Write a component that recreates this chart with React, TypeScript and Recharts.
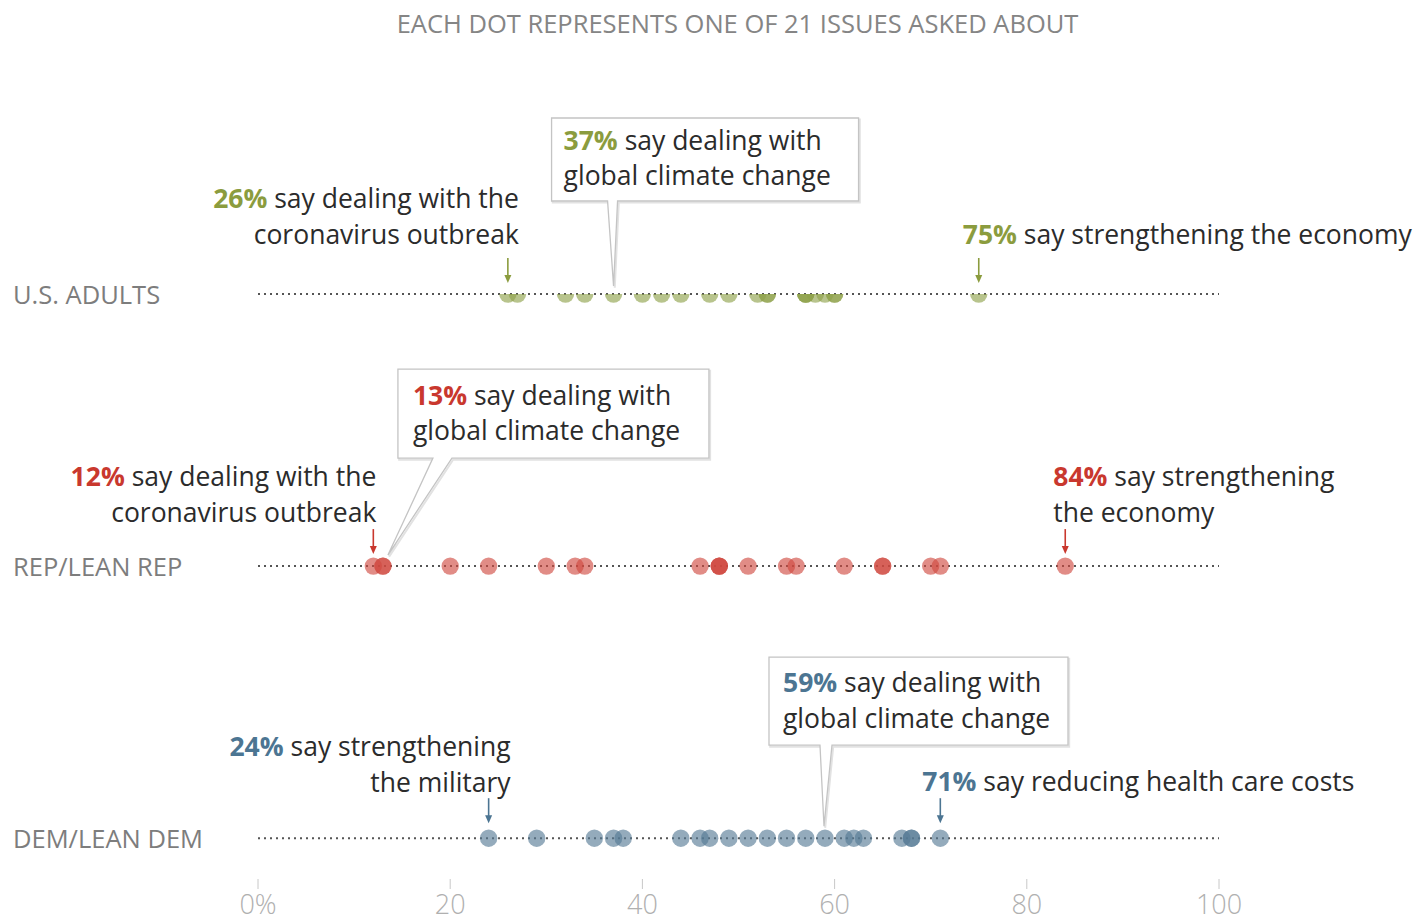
import React from 'react';
import { ScatterChart, Scatter, XAxis, YAxis, ReferenceLine, ReferenceDot } from 'recharts';

const FONT = '"Open Sans", "DejaVu Sans", sans-serif';

const rowLabels = ['U.S. ADULTS', 'REP/LEAN REP', 'DEM/LEAN DEM'];
const usAdults = [26, 27, 32, 34, 37, 40, 42, 44, 47, 49, 52, 53, 53, 57, 57, 57, 58, 59, 60, 60, 75];
const repLeanRep = [12, 13, 13, 20, 24, 30, 33, 34, 46, 48, 48, 48, 51, 55, 56, 61, 65, 65, 70, 71, 84];
const demLeanDem = [24, 29, 35, 37, 38, 44, 46, 47, 49, 51, 53, 55, 57, 59, 61, 62, 63, 67, 68, 68, 71];
const xTicks = [0, 20, 40, 60, 80, 100];

const textColors = ['#8b9c3e', '#c9382e', '#4c7592'];
const dotColors = ['#8fa24a', '#d0493f', '#557a95'];

const annotationPct = ['26%', '37%', '75%', '12%', '13%', '84%', '24%', '59%', '71%'];
const annotationRow = [0, 0, 0, 1, 1, 1, 2, 2, 2];
const annotationValue = [26, 37, 75, 12, 13, 84, 24, 59, 71];
const annotationLine1 = [
  ' say dealing with the', ' say dealing with', ' say strengthening the economy',
  ' say dealing with the', ' say dealing with', ' say strengthening',
  ' say strengthening', ' say dealing with', ' say reducing health care costs',
];
const annotationLine2 = [
  'coronavirus outbreak', 'global climate change', '',
  'coronavirus outbreak', 'global climate change', 'the economy',
  'the military', 'global climate change', '',
];

// layout (offsets relative to the annotated dot)
type ArrowLayout = { kind: 'arrow'; anchor: 'start' | 'end'; tx: number; ly: number[]; a0: number; a1: number };
type BoxLayout = {
  kind: 'box'; bx: number; by: number; bw: number; bh: number; bl: number; br: number;
  tipx: number; tipy: number; tx: number; ly: number[];
};
const layouts: (ArrowLayout | BoxLayout)[] = [
  { kind: 'arrow', anchor: 'end', tx: 11, ly: [-96, -60], a0: -36, a1: -11 },
  { kind: 'box', bx: -62, by: -176, bw: 307, bh: 83, bl: -6, br: 4, tipx: 0, tipy: -8, tx: -50, ly: [-154, -119] },
  { kind: 'arrow', anchor: 'start', tx: -16, ly: [-60], a0: -36, a1: -11 },
  { kind: 'arrow', anchor: 'end', tx: 3, ly: [-90, -54], a0: -37, a1: -12 },
  { kind: 'box', bx: 15, by: -197, bw: 311, bh: 89, bl: 50, br: 69, tipx: 5, tipy: -11, tx: 30, ly: [-171, -136] },
  { kind: 'arrow', anchor: 'start', tx: -12, ly: [-90, -54], a0: -37, a1: -12 },
  { kind: 'arrow', anchor: 'end', tx: 22, ly: [-92, -56], a0: -40, a1: -15 },
  { kind: 'box', bx: -56, by: -181, bw: 299, bh: 88, bl: -5, br: 7, tipx: -1, tipy: -12, tx: -42, ly: [-156, -120] },
  { kind: 'arrow', anchor: 'start', tx: -18, ly: [-57], a0: -40, a1: -15 },
];

const seriesList = [usAdults, repLeanRep, demLeanDem].map((vals, row) => vals.map((v) => ({ x: v, y: row })));

const DotShape = (color: string) => (props: any) => {
  const { cx, cy } = props;
  if (cx == null || cy == null) return null;
  return <circle cx={cx} cy={cy} r={8.7} fill={color} fillOpacity={0.63} />;
};

const makeAnnotation = (i: number) => (props: any) => {
  const { cx, cy } = props;
  if (cx == null || cy == null) return null;
  const color = textColors[annotationRow[i]];
  const L = layouts[i];
  const fs = 26.5;
  const lines = [annotationLine1[i], annotationLine2[i]].filter((s, k) => k === 0 || s);
  if (L.kind === 'arrow') {
    return (
      <g>
        <line x1={cx} x2={cx} y1={cy + L.a0} y2={cy + L.a1 - 6} stroke={color} strokeWidth={1.6} />
        <path d={`M${cx - 3.5},${cy + L.a1 - 8} L${cx + 3.5},${cy + L.a1 - 8} L${cx},${cy + L.a1} Z`} fill={color} />
        {lines.map((ln, k) => (
          <text key={k} x={cx + L.tx} y={cy + L.ly[k]} textAnchor={L.anchor} dominantBaseline="central"
            fontFamily={FONT} fontSize={fs} fill="#2b2b2b">
            {k === 0 ? <tspan fill={color} fontWeight={700}>{annotationPct[i]}</tspan> : null}
            <tspan>{ln}</tspan>
          </text>
        ))}
      </g>
    );
  }
  const left = cx + L.bx, top = cy + L.by, right = left + L.bw, bottom = top + L.bh;
  const d = `M${left},${top} H${right} V${bottom} H${cx + L.br} L${cx + L.tipx},${cy + L.tipy} L${cx + L.bl},${bottom} H${left} Z`;
  return (
    <g>
      <path d={d} transform="translate(1.2,1.6)" fill="none" stroke="#e2e2e2" strokeWidth={2} />
      <path d={d} fill="#ffffff" stroke="#c4c4c4" strokeWidth={1.3} />
      {lines.map((ln, k) => (
        <text key={k} x={cx + L.tx} y={cy + L.ly[k]} textAnchor="start" dominantBaseline="central"
          fontFamily={FONT} fontSize={fs} fill="#2b2b2b">
          {k === 0 ? <tspan fill={color} fontWeight={700}>{annotationPct[i]}</tspan> : null}
          <tspan>{ln}</tspan>
        </text>
      ))}
    </g>
  );
};

const RowTick = (props: any) => {
  const { y, payload } = props;
  return (
    <text x={13} y={y} dominantBaseline="central" fontFamily={FONT} fontSize={25.5} fill="#7d7d7d">
      {rowLabels[payload.value]}
    </text>
  );
};

export default function App() {
  return (
    <div style={{ position: 'absolute', left: 0, top: 0, width: 1417, height: 924, background: '#fff' }}>
      <div style={{
        position: 'absolute', left: 0, width: 1475, top: 6, textAlign: 'center',
        fontFamily: FONT, fontSize: 25.5, color: '#858585', lineHeight: '34px',
      }}>
        EACH DOT REPRESENTS ONE OF 21 ISSUES ASKED ABOUT
      </div>
      <ScatterChart width={1417} height={924} margin={{ top: 294, right: 198, left: 0, bottom: 0 }}>
        <XAxis type="number" dataKey="x" domain={[0, 100]} ticks={xTicks} axisLine={false}
          tickLine={{ stroke: '#c8c8c8' }} tickSize={10} tickMargin={6} height={45} interval={0}
          tickFormatter={(v: number) => (v === 0 ? '0%' : String(v))}
          tick={{ fill: '#b0b0b0', fontSize: 27, fontFamily: FONT, fontWeight: 300 }} />
        <YAxis type="number" dataKey="y" domain={[0, 2.15]} reversed ticks={[0, 1, 2]} width={258}
          axisLine={false} tickLine={false} tick={<RowTick />} allowDataOverflow />
        {[0, 1, 2].map((r) => (
          <ReferenceLine key={r} y={r} stroke="#555" strokeWidth={2} strokeDasharray="2 4" />
        ))}
        {seriesList.map((data, r) => (
          <Scatter key={r} data={data} isAnimationActive={false} shape={DotShape(dotColors[r])} />
        ))}
        {annotationValue.map((v, i) => (
          <ReferenceDot key={i} x={v} y={annotationRow[i]} r={1} shape={makeAnnotation(i)} />
        ))}
      </ScatterChart>
    </div>
  );
}
